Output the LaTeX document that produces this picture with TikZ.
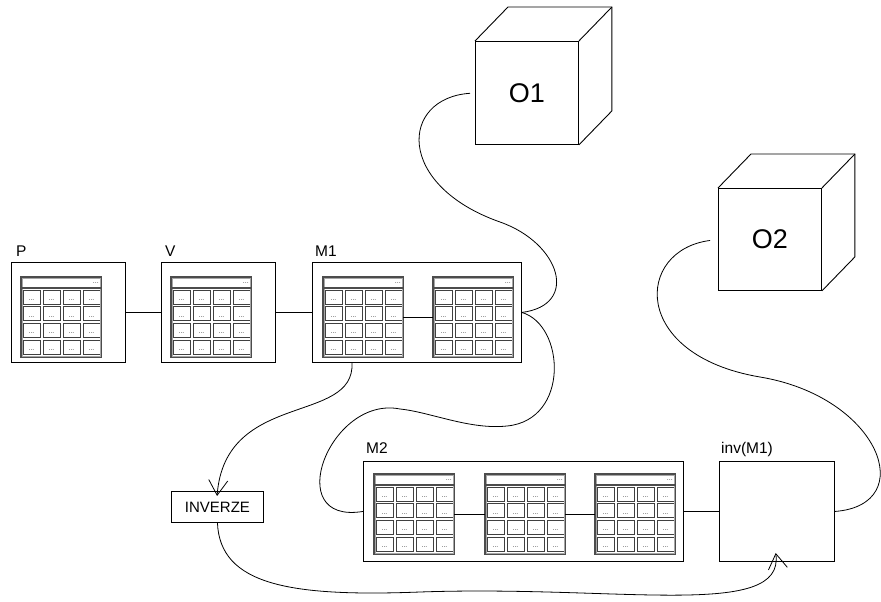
\documentclass[tikz,border=0pt]{standalone}
\usepackage{fontspec}
\setmainfont{Liberation Sans}
\usetikzlibrary{arrows.meta,calc}
\tikzset{
  mtab/.pic={
    \foreach \i in {0,...,3}{\foreach \j in {0,...,3}{
      \draw[black!75, line width=0.6pt] (2+20*\i,13+16.7*\j) rectangle ++(17,14);
      \node[font=\fontsize{7}{7}\selectfont, text=black!75, inner sep=0pt] (-c\i\j) at (10.5+20*\i, 23+16.7*\j) {...};
    }}
    \draw[black!70, line width=1.3pt] (0,0) rectangle (80,80);
    \draw[black!35, line width=0.5pt] (1.2,1.2) rectangle (78.8,78.8);
    \draw[black!70, line width=1.2pt] (0,11) -- (80,11);
    \node[font=\fontsize{7}{7}\selectfont, text=black!75, inner sep=0pt, anchor=east] (-h) at (78,6.5) {...};
  }
}
\begin{document}
\begin{tikzpicture}[x=1pt,y=-1pt,
  box/.style={draw=black, line width=0.9pt, inner sep=0pt, anchor=north west},
  lbl/.style={font=\fontsize{15.5}{17}\selectfont, inner sep=0pt, anchor=base west},
  tabslot/.style={inner sep=0pt, minimum width=80pt, minimum height=80pt, anchor=north west},
  conn/.style={draw, line width=0.8pt},
  barb/.style={-{Straight Barb[length=15pt,width=19pt,line width=0.8pt]}},
  cubeface/.style={box, minimum width=103pt, minimum height=103pt, font=\fontsize{27}{30}\selectfont}
]
\useasboundingbox (0,0) rectangle (881,602);

% container boxes
\node[box, minimum width=114pt, minimum height=100pt] (P) at (11,262) {};
\node[box, minimum width=114pt, minimum height=100pt] (V) at (161,262) {};
\node[box, minimum width=209pt, minimum height=100pt] (M1) at (312,262) {};
\node[box, minimum width=320pt, minimum height=100pt] (M2) at (363,461) {};
\node[box, minimum width=115pt, minimum height=100pt] (invm) at (719,461) {};
\node[box, minimum width=92pt, minimum height=31pt, font=\fontsize{15}{17}\selectfont] (INV) at (171,491) {INVERZE};

% labels
\node[lbl] (lP) at ([xshift=5pt,yshift=6pt]P.north west) {P};
\node[lbl] (lV) at ([xshift=4pt,yshift=6pt]V.north west) {V};
\node[lbl] (lM1) at ([xshift=3pt,yshift=6pt]M1.north west) {M1};
\node[lbl] (lM2) at ([xshift=3pt,yshift=8pt]M2.north west) {M2};
\node[lbl] (linv) at ([xshift=2pt,yshift=8pt]invm.north west) {inv(M1)};

% table slots
\node[tabslot] (pa) at (21,277) {};
\node[tabslot] (va) at (171,277) {};
\node[tabslot] (m1a) at (323,277) {};
\node[tabslot] (m1b) at (433,277) {};
\node[tabslot] (m2a) at (374,474) {};
\node[tabslot] (m2b) at (485,474) {};
\node[tabslot] (m2c) at (595,474) {};
\pic (tpa) at (pa.north west) {mtab};
\pic (tva) at (va.north west) {mtab};
\pic (tm1a) at (m1a.north west) {mtab};
\pic (tm1b) at (m1b.north west) {mtab};
\pic (tm2a) at (m2a.north west) {mtab};
\pic (tm2b) at (m2b.north west) {mtab};
\pic (tm2c) at (m2c.north west) {mtab};

% cubes
\node[cubeface] (O1) at (475,41) {O1};
\draw[line width=0.9pt] (O1.north west) -- ++(33,-34) -- ($(O1.north east)+(33,-34)$) -- ($(O1.south east)+(33,-34)$) -- (O1.south east);
\draw[line width=0.9pt] (O1.north east) -- ++(33,-34);
\node[cubeface, minimum height=102pt] (O2) at (718,188) {O2};
\draw[line width=0.9pt] (O2.north west) -- ++(33,-34) -- ($(O2.north east)+(33,-34)$) -- ($(O2.south east)+(33,-34)$) -- (O2.south east);
\draw[line width=0.9pt] (O2.north east) -- ++(33,-34);

% straight connectors
\draw[conn] (P.east) -- (V.west);
\draw[conn] (V.east) -- (M1.west);
\draw[conn] (m1a.east) -- (m1b.west);
\draw[conn] (m2a.east) -- (m2b.west);
\draw[conn] (m2b.east) -- (m2c.west);
\draw[conn] (M2.east) -- (invm.west);

% curved connectors
\draw[conn, shorten <=5pt] (O1.west) .. controls (400,98) and (395,185) .. (500,222)
  .. controls (560,243) and (580,305) .. (M1.east);
\draw[conn] (M1.east) .. controls (565,325) and (570,420) .. (507,426)
  .. controls (470,430) and (430,412) .. (400,409)
  .. controls (330,395) and (280,525) .. (M2.west);
\draw[conn, shorten <=8pt] (O2.west) .. controls (635,250) and (630,355) .. (760,377)
  .. controls (880,397) and (920,505) .. (invm.east);
\draw[conn, barb, shorten >=-5pt] ([xshift=40pt]M1.south west) .. controls (355,425) and (225,390) .. (INV.north);
\draw[conn, barb, shorten >=-9pt] (INV.south) .. controls (220,585) and (290,597) .. (420,592)
  .. controls (620,585) and (785,620) .. (invm.south);
\end{tikzpicture}
\end{document}
